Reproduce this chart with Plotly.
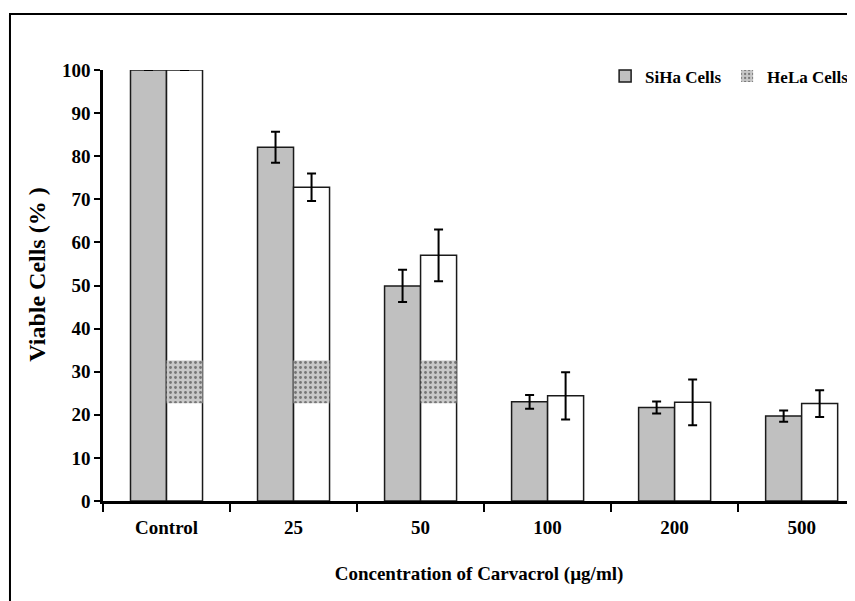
import plotly.graph_objects as go

categories = ["Control", "25", "50", "100", "200", "500"]
siha = [100, 82.1, 49.9, 23.0, 21.7, 19.7]
siha_err = [None, 3.6, 3.75, 1.6, 1.4, 1.3]
hela = [100, 72.8, 57.0, 24.4, 22.9, 22.6]
hela_err = [None, 3.2, 6.0, 5.5, 5.3, 3.1]
patch_cats = ["Control", "25", "50"]
patch_base = [22.7, 22.7, 22.7]
patch_height = [9.9, 9.9, 9.9]

font_family = '"Liberation Serif", "Times New Roman", Tinos, serif'
edge = "#1a1a1a"

fig = go.Figure()
fig.add_trace(go.Bar(
    x=categories, y=siha, name="SiHa Cells", offsetgroup="a",
    marker=dict(color="#c0c0c0", line=dict(color=edge, width=1.5)),
    error_y=dict(type="data", array=siha_err, visible=True, color="black", thickness=2, width=4.5),
))
fig.add_trace(go.Bar(
    x=categories, y=hela, name="HeLa", offsetgroup="b", showlegend=False,
    marker=dict(color="white", line=dict(color=edge, width=1.5)),
    error_y=dict(type="data", array=hela_err, visible=True, color="black", thickness=2, width=4.5),
))
fig.add_trace(go.Bar(
    x=patch_cats, y=patch_height, base=patch_base, name="HeLa Cells", offsetgroup="b",
    marker=dict(color="#c8c8c8", line=dict(color=edge, width=0),
                pattern=dict(shape=".", fgcolor="#222222", bgcolor="#c8c8c8", size=5, solidity=0.25)),
))

fig.update_layout(
    width=847, height=593,
    margin=dict(l=95, r=0, t=62, b=100, autoexpand=False),
    paper_bgcolor="white", plot_bgcolor="white",
    barmode="group", bargap=0.433, bargroupgap=0,
    font=dict(family=font_family, color="black"),
    showlegend=True,
    legend=dict(orientation="h", x=0.6677, y=0.985, xanchor="left", yanchor="middle",
                font=dict(family=font_family, size=17, color="black", weight="bold"),
                bgcolor="rgba(0,0,0,0)", itemwidth=30, traceorder="normal",
                entrywidth=77, entrywidthmode="pixels"),
    xaxis=dict(
        range=[-0.5, 5.42], showline=True, linecolor="black", linewidth=2.5,
        ticks="outside", tickson="boundaries", ticklen=8, tickwidth=1.5, tickcolor="black",
        showgrid=False, zeroline=False, ticklabelstandoff=7,
        tickfont=dict(family=font_family, size=19, color="black", weight="bold"),
        title=dict(text="Concentration of Carvacrol (µg/ml)", standoff=31,
                   font=dict(family=font_family, size=19, color="black", weight="bold")),
        automargin=False,
    ),
    yaxis=dict(
        range=[0, 100], dtick=10, showline=True, linecolor="black", linewidth=2.5,
        ticks="outside", ticklen=6, tickwidth=1.5, tickcolor="black",
        showgrid=False, zeroline=False,
        tickfont=dict(family=font_family, size=19, color="black", weight="bold"),
        automargin=False,
    ),
)

fig.add_annotation(text="Viable Cells (% )", xref="paper", yref="paper",
                   x=-0.087, y=0.524, xanchor="center", yanchor="middle",
                   textangle=-90, showarrow=False,
                   font=dict(family=font_family, size=24, color="black", weight="bold"))

fig.add_shape(type="rect", xref="paper", yref="paper",
              x0=-0.1237, x1=1.2, y0=-0.5, y1=1.13,
              line=dict(color="black", width=2), fillcolor="rgba(0,0,0,0)", layer="above")

fig.write_html("out.html")
